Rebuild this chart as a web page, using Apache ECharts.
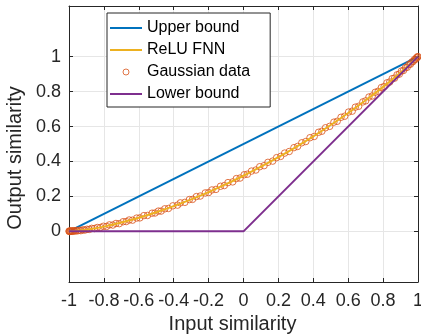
<!DOCTYPE html>
<html>
<head>
<meta charset="utf-8">
<script src="https://cdn.jsdelivr.net/npm/echarts@6/dist/echarts.min.js"></script>
<style>
  html, body { margin: 0; padding: 0; background: #fff; }
  #main { width: 421px; height: 336px; }
</style>
</head>
<body>
<div id="main"></div>
<script>
// bounds
var upperX = [-1, 1];
var upperY = [0, 1];
var lowerX = [-1, 0, 1];
var lowerY = [0, 0, 1];

// ReLU FNN curve
var reluX = [-1, -0.95, -0.9, -0.8, -0.7, -0.6, -0.5, -0.4, -0.3, -0.2, -0.1, 0, 0.1, 0.2, 0.3, 0.4, 0.5, 0.6, 0.7, 0.8, 0.9, 0.95, 1];
var reluY = [0, 0.0034, 0.0096, 0.0271, 0.0501, 0.0775, 0.109, 0.1441, 0.1827, 0.2247, 0.2699, 0.3183, 0.3699, 0.4247, 0.4827, 0.5441, 0.609, 0.6775, 0.7501, 0.8271, 0.9095, 0.9533, 1];

// Gaussian data samples
var gaussX = [-1, -0.998, -0.996, -0.993, -0.99, -0.986, -0.982, -0.977, -0.972, -0.965, -0.958, -0.95, -0.941, -0.932, -0.921, -0.91, -0.897, -0.884, -0.87, -0.855,
  -0.838, -0.82, -0.803, -0.785, -0.768, -0.749, -0.731, -0.712, -0.69, -0.672, -0.655, -0.636, -0.612, -0.594, -0.571, -0.55, -0.524, -0.507, -0.488, -0.472,
  -0.451, -0.43, -0.405, -0.378, -0.362, -0.336, -0.31, -0.292, -0.27, -0.248, -0.219, -0.2, -0.181, -0.158, -0.132, -0.11, -0.089, -0.062, -0.041, -0.02,
  0.004, 0.022, 0.046, 0.071, 0.093, 0.118, 0.14, 0.167, 0.19, 0.213, 0.236, 0.262, 0.289, 0.31, 0.334, 0.357, 0.381, 0.405, 0.43, 0.449,
  0.47, 0.494, 0.518, 0.537, 0.559, 0.58, 0.602, 0.623, 0.641, 0.66, 0.684, 0.7, 0.719, 0.738, 0.755, 0.772, 0.79, 0.806, 0.822, 0.838,
  0.852, 0.866, 0.88, 0.893, 0.905, 0.917, 0.928, 0.938, 0.948, 0.957, 0.965, 0.972, 0.979, 0.985, 0.99, 0.994, 0.997, 1];
var gaussY = [0, 0.002, -0.001, 0.001, 0, 0.003, 0, 0.002, 0.004, 0.001, 0.005, 0.003, 0.006, 0.004, 0.009, 0.007, 0.012, 0.011, 0.017, 0.016,
  0.022, 0.022, 0.029, 0.028, 0.037, 0.036, 0.045, 0.044, 0.055, 0.056, 0.065, 0.064, 0.076, 0.077, 0.09, 0.091, 0.104, 0.105, 0.116, 0.116,
  0.129, 0.131, 0.146, 0.15, 0.163, 0.166, 0.182, 0.183, 0.199, 0.202, 0.22, 0.222, 0.237, 0.24, 0.258, 0.262, 0.279, 0.283, 0.302, 0.305,
  0.324, 0.327, 0.345, 0.351, 0.37, 0.376, 0.395, 0.402, 0.422, 0.429, 0.448, 0.457, 0.479, 0.486, 0.507, 0.514, 0.536, 0.543, 0.567, 0.573,
  0.593, 0.601, 0.625, 0.63, 0.653, 0.659, 0.683, 0.688, 0.711, 0.716, 0.741, 0.747, 0.769, 0.775, 0.796, 0.802, 0.823, 0.829, 0.85, 0.855,
  0.874, 0.877, 0.896, 0.9, 0.918, 0.921, 0.937, 0.939, 0.955, 0.957, 0.97, 0.972, 0.983, 0.984, 0.993, 0.993, 0.999, 1];

var yTicks = [0, 0.2, 0.4, 0.6, 0.8, 1];

function zip(xs, ys) {
  return xs.map(function (x, i) { return [x, ys[i]]; });
}

var font = 'Liberation Sans, Arial, Helvetica, sans-serif';
var axisColor = '#262626';
var gridColor = '#e6e6e6';
var lineIcon = 'path://M0,0H32V2H0Z';

var chart = echarts.init(document.getElementById('main'));
chart.setOption({
  animation: false,
  backgroundColor: '#fff',
  textStyle: { fontFamily: font },
  grid: { left: 69, right: 3, top: 6, bottom: 54, containLabel: false, outerBoundsMode: 'none' },
  legend: {
    left: 107, top: 13,
    orient: 'vertical',
    align: 'left',
    data: [
      { name: 'Upper bound', icon: lineIcon },
      { name: 'ReLU FNN', icon: lineIcon },
      { name: 'Gaussian data', itemStyle: { color: 'rgba(255,255,255,0)', borderColor: '#D95319', borderWidth: 0.8 } },
      { name: 'Lower bound', icon: lineIcon }
    ],
    itemWidth: 32, itemHeight: 6, itemGap: 6,
    symbolKeepAspect: true,
    padding: [7, 20, 5, 3],
    backgroundColor: '#fff',
    borderColor: axisColor, borderWidth: 1, borderRadius: 0,
    textStyle: { fontFamily: font, fontSize: 16, lineHeight: 16, color: '#000' }
  },
  xAxis: [{
    type: 'value', min: -1, max: 1, interval: 0.2,
    name: 'Input similarity', nameLocation: 'middle', nameGap: 30,
    nameTextStyle: { fontFamily: font, fontSize: 20, color: axisColor, padding: [0, 22, 0, 0] },
    axisLine: { onZero: false, lineStyle: { color: axisColor, width: 1 } },
    axisTick: { inside: true, length: 4, lineStyle: { color: axisColor } },
    axisLabel: { fontFamily: font, fontSize: 18, color: axisColor, margin: 10 },
    splitLine: { show: true, lineStyle: { color: gridColor, width: 1 } }
  }, {
    type: 'value', min: -1, max: 1, interval: 0.2, position: 'top',
    axisLine: { onZero: false, lineStyle: { color: axisColor, width: 1 } },
    axisTick: { inside: true, length: 4, lineStyle: { color: axisColor } },
    axisLabel: { show: false },
    splitLine: { show: false }
  }],
  yAxis: [{
    type: 'value', min: -0.29, max: 1.29,
    name: 'Output similarity', nameLocation: 'middle', nameGap: 40,
    nameTextStyle: { fontFamily: font, fontSize: 20, color: axisColor, padding: [0, 28, 0, 0] },
    axisLine: { show: true, onZero: false, lineStyle: { color: axisColor, width: 1 } },
    axisTick: { show: true, inside: true, length: 4, customValues: yTicks, lineStyle: { color: axisColor } },
    axisLabel: { customValues: yTicks, fontFamily: font, fontSize: 18, color: axisColor, margin: 8 },
    splitLine: { show: true, lineStyle: { color: gridColor, width: 1 } }
  }, {
    type: 'value', min: -0.29, max: 1.29, position: 'right',
    axisLine: { show: true, onZero: false, lineStyle: { color: axisColor, width: 1 } },
    axisTick: { show: true, inside: true, length: 4, customValues: yTicks, lineStyle: { color: axisColor } },
    axisLabel: { show: false },
    splitLine: { show: false }
  }],
  series: [{
    name: 'Upper bound', type: 'line', data: zip(upperX, upperY),
    symbol: 'none', color: '#0072BD', lineStyle: { width: 2, color: '#0072BD' }, z: 2
  }, {
    name: 'ReLU FNN', type: 'line', data: zip(reluX, reluY), smooth: 0.3,
    symbol: 'none', color: '#EDB120', lineStyle: { width: 2, color: '#EDB120' }, z: 4
  }, {
    name: 'Gaussian data', type: 'scatter', data: zip(gaussX, gaussY),
    symbol: 'circle', symbolSize: 6.5, color: '#D95319',
    itemStyle: { color: 'rgba(255,255,255,0)', opacity: 1, borderColor: '#D95319', borderWidth: 0.8 },
    z: 3
  }, {
    name: 'Lower bound', type: 'line', data: zip(lowerX, lowerY),
    symbol: 'none', color: '#7E2F8E', lineStyle: { width: 2, color: '#7E2F8E' }, z: 5
  }]
});
</script>
</body>
</html>
